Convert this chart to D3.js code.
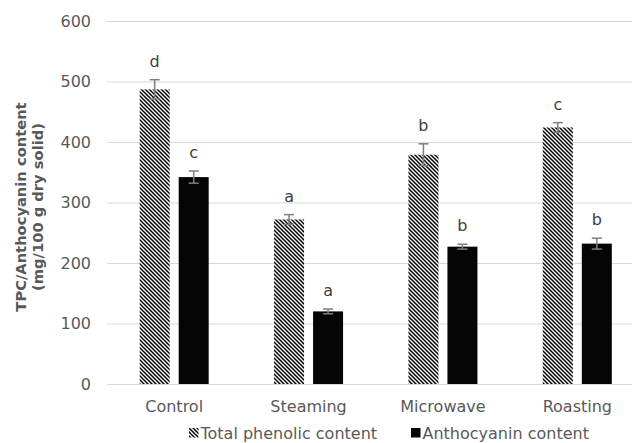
<!DOCTYPE html>
<html>
<head>
<meta charset="utf-8">
<script src="https://cdn.jsdelivr.net/npm/d3@7"></script>
<style>
  html, body { margin: 0; padding: 0; background: #fff; }
  svg { display: block; font-family: "DejaVu Sans", Verdana, sans-serif; }
</style>
</head>
<body>
<svg id="chart" width="632" height="443"></svg>
<script>
// Treatments along the x axis
const categories = ["Control", "Steaming", "Microwave", "Roasting"];
const seriesNames = ["Total phenolic content", "Anthocyanin content"];

// mg/100 g dry solid
const tpcValues = [487, 272, 379, 424];
const tpcErrors = [16, 8, 18, 8];
const tpcLetters = ["d", "a", "b", "c"];

const anthoValues = [342, 120, 227, 232];
const anthoErrors = [10, 4, 4, 9];
const anthoLetters = ["c", "a", "b", "b"];

const yTicks = [0, 100, 200, 300, 400, 500, 600];

const W = 632, H = 443;
const svg = d3.select("#chart");

// Diagonal hatch used for the phenolic series
const defs = svg.append("defs");
const hatch = defs.append("pattern")
  .attr("id", "hatch")
  .attr("patternUnits", "userSpaceOnUse")
  .attr("width", 4).attr("height", 4);
hatch.append("rect").attr("width", 4).attr("height", 4).attr("fill", "#fff");
hatch.append("path")
  .attr("d", "M-1,-1 L5,5 M-1,3 L1,5 M3,-1 L5,1")
  .attr("stroke", "#000").attr("stroke-width", 1.5);

const series = [
  { name: seriesNames[0], values: tpcValues, errors: tpcErrors, letters: tpcLetters, fill: "url(#hatch)" },
  { name: seriesNames[1], values: anthoValues, errors: anthoErrors, letters: anthoLetters, fill: "#050505" }
];

const y = d3.scaleLinear().domain([0, 600]).range([384, 21]);
const x = d3.scaleBand().domain(categories).range([107, 644.5]).paddingInner(0).paddingOuter(0);
const bw = x.bandwidth();
const x1 = d3.scaleBand().domain(seriesNames)
  .range([bw / 2 - 34.5, bw / 2 + 34.5]).paddingInner(0.231).paddingOuter(0);

// Gridlines and y tick labels via the axis generator
const yAxis = d3.axisLeft(y).tickValues(yTicks).tickSize(-(W - 107)).tickPadding(16);
const gy = svg.append("g").attr("transform", "translate(107,0)").call(yAxis);
gy.select(".domain").remove();
gy.selectAll(".tick line").attr("stroke", "#d9d9d9").attr("stroke-width", 1);
gy.selectAll(".tick text")
  .attr("fill", "#595959").attr("font-size", 16)
  .attr("font-family", "DejaVu Sans, Verdana, sans-serif");

// Category labels
const xAxis = d3.axisBottom(x).tickSize(0).tickPadding(0);
const gx = svg.append("g").attr("transform", "translate(0,384)").call(xAxis);
gx.select(".domain").remove();
gx.selectAll(".tick text")
  .attr("fill", "#595959").attr("font-size", 16)
  .attr("font-family", "DejaVu Sans, Verdana, sans-serif")
  .attr("dy", null).attr("y", 27.5);

// Bars, error bars and significance letters
series.forEach(s => {
  const g = svg.append("g");
  categories.forEach((c, i) => {
    const x0 = x(c) + x1(s.name);
    const w = x1.bandwidth();
    const v = s.values[i], e = s.errors[i];
    g.append("rect")
      .attr("x", x0).attr("y", y(v))
      .attr("width", w).attr("height", y(0) - y(v))
      .attr("fill", s.fill);
    const cx = x0 + w / 2;
    const eg = g.append("g").attr("stroke", "#7f7f7f").attr("stroke-width", 1.5);
    eg.append("line").attr("x1", cx).attr("x2", cx).attr("y1", y(v + e)).attr("y2", y(v - e));
    eg.append("line").attr("x1", cx - 5).attr("x2", cx + 5).attr("y1", y(v + e)).attr("y2", y(v + e));
    eg.append("line").attr("x1", cx - 5).attr("x2", cx + 5).attr("y1", y(v - e)).attr("y2", y(v - e));
    g.append("text")
      .attr("x", cx).attr("y", y(v + e) - 13)
      .attr("text-anchor", "middle")
      .attr("font-size", 16).attr("fill", "#404040")
      .text(s.letters[i]);
  });
});

// Y axis title
svg.append("text")
  .attr("transform", "translate(26,207) rotate(-90)")
  .attr("text-anchor", "middle")
  .attr("font-size", 14.7).attr("font-weight", "bold").attr("fill", "#595959")
  .selectAll("tspan")
  .data(["TPC/Anthocyanin content", "(mg/100 g dry solid)"])
  .join("tspan")
  .attr("x", 0).attr("dy", (d, i) => i === 0 ? 0 : 17)
  .text(d => d);

// Legend
const legend = svg.append("g").attr("transform", "translate(0,439)");
const legendItems = [
  { name: seriesNames[0], fill: "url(#hatch)", x: 189 },
  { name: seriesNames[1], fill: "#050505", x: 411 }
];
legendItems.forEach(it => {
  legend.append("rect").attr("x", it.x).attr("y", -11).attr("width", 9.5).attr("height", 9.5).attr("fill", it.fill);
  legend.append("text").attr("x", it.x + 11.5).attr("y", 0)
    .attr("font-size", 16).attr("fill", "#595959").text(it.name);
});
</script>
</body>
</html>
